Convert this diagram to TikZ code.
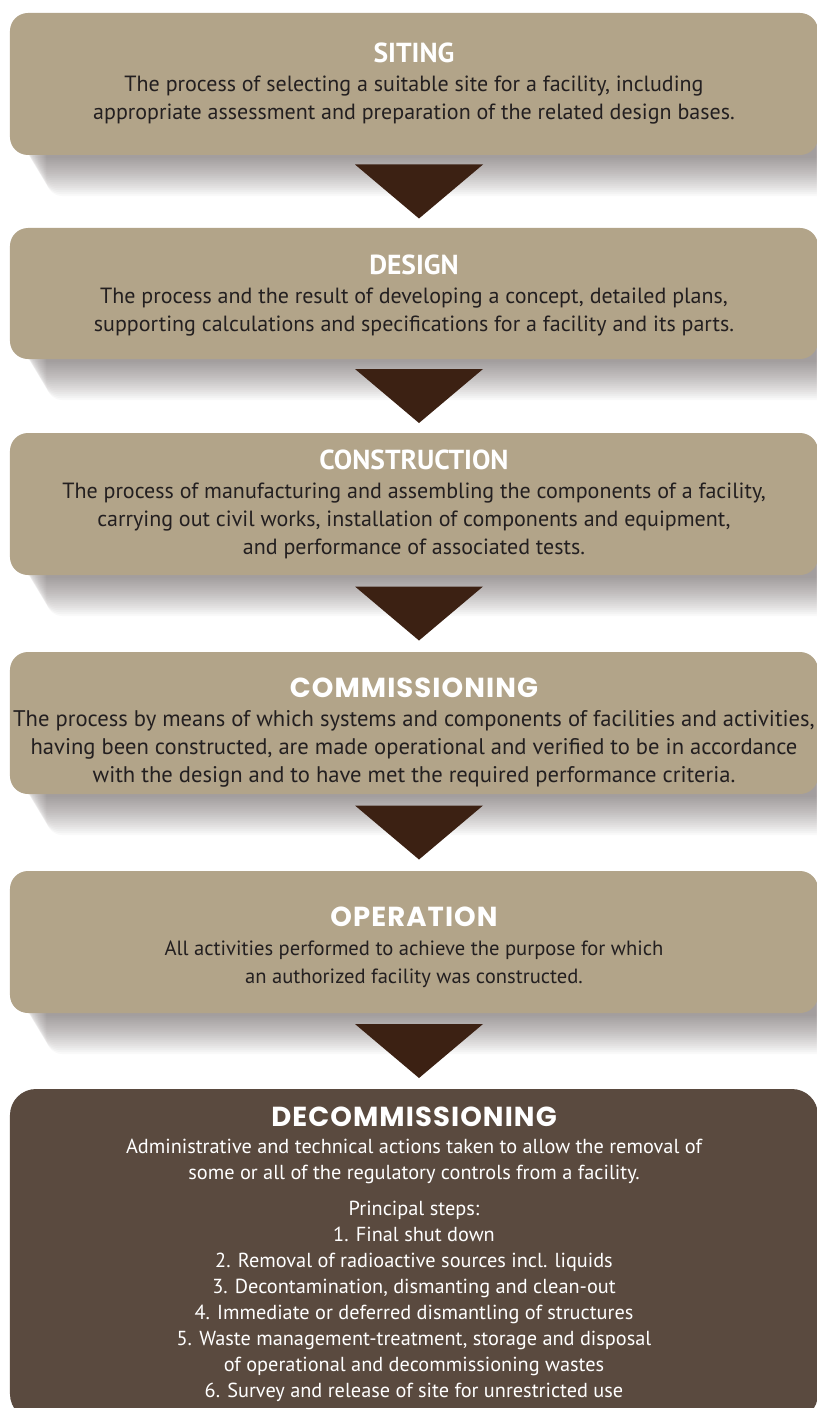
\documentclass[tikz,border=0pt]{standalone}
\usepackage{fontspec}
\setmainfont{PT Sans}
\newfontfamily\widefont[LetterSpace=4]{Poppins}
\usetikzlibrary{backgrounds, calc}

\definecolor{tanbox}{HTML}{B2A489}
\definecolor{darkbox}{HTML}{5A4A3F}
\definecolor{pointerbrown}{HTML}{3C2113}
\definecolor{bodytext}{HTML}{231F20}
\definecolor{shadowtone}{HTML}{3A2E2E}

\newcommand{\stagetitle}[1]{{\fontsize{27.5bp}{28bp}\selectfont\bfseries\color{white}#1}}
\newcommand{\widetitle}[1]{{\widefont\fontsize{27.5bp}{28bp}\selectfont\bfseries\color{white}#1}}

\begin{document}
\begin{tikzpicture}[x=1bp, y=-1bp,
        stage/.style={fill=tanbox, rounded corners=18bp, minimum width=808bp, inner sep=0pt},
        laststage/.style={stage, fill=darkbox, rounded corners=26bp},
        stagetext/.style={inner sep=0pt, align=center, text=bodytext, font=\fontsize{22bp}{28bp}\selectfont},
        laststagetext/.style={stagetext, text=white, font=\fontsize{20.3bp}{26bp}\selectfont},
        pointer/.style={fill=pointerbrown},
        shadowlayer/.style={fill=shadowtone, opacity=0.028, rounded corners=16bp}
      ]
        \useasboundingbox (0,0) rectangle (816,1408);

        % Stages
        \node[stage, minimum height=142bp] (siting) at (414,84) {};
        \node[stage, minimum height=131bp] (design) at (414,293.5) {};
        \node[stage, minimum height=142bp] (construction) at (414,504) {};
        \node[stage, minimum height=142bp] (commissioning) at (414,723) {};
        \node[stage, minimum height=142bp] (operation) at (414,942) {};
        \node[laststage, minimum height=331bp] (decommissioning) at (414,1254.5) {};

        % Texts
        \node[stagetext] (sitingtext) at (siting.center) {
            \stagetitle{SITING}\\[1bp]
            The process of selecting a suitable site for a facility, including\\
            appropriate assessment and preparation of the related design bases.
        };
        \node[stagetext] (designtext) at ([yshift=-2bp]design.center) {
            \stagetitle{DESIGN}\\[1bp]
            The process and the result of developing a concept, detailed plans,\\
            supporting calculations and specifications for a facility and its parts.
        };
        \node[stagetext] (constructiontext) at (construction.center) {
            \stagetitle{CONSTRUCTION}\\[1bp]
            The process of manufacturing and assembling the components of a facility,\\
            carrying out civil works, installation of components and equipment,\\
            and performance of associated tests.
        };
        \node[stagetext, font=\fontsize{22.6bp}{28bp}\selectfont] (commissioningtext) at ([yshift=-10bp]commissioning.center) {
            \widetitle{COMMISSIONING}\\[1bp]
            The process by means of which systems and components of facilities and activities,\\
            having been constructed, are made operational and verified to be in accordance\\
            with the design and to have met the required performance criteria.
        };
        \node[stagetext, font=\fontsize{20.6bp}{28bp}\selectfont] (operationtext) at ([yshift=-5bp]operation.center) {
            \widetitle{OPERATION}\\[1bp]
            All activities performed to achieve the purpose for which\\
            an authorized facility was constructed.
        };
        \node[laststagetext] (decommissioningtext) at (decommissioning.center) {
            \widetitle{DECOMMISSIONING}\\[1bp]
            Administrative and technical actions taken to allow the removal of\\
            some or all of the regulatory controls from a facility.\\[10bp]
            Principal steps:\\
            1. Final shut down\\
            2. Removal of radioactive sources incl. liquids\\
            3. Decontamination, dismanting and clean-out\\
            4. Immediate or deferred dismantling of structures\\
            5. Waste management-treatment, storage and disposal\\
            of operational and decommissioning wastes\\
            6. Survey and release of site for unrestricted use
        };

        % Soft shadows under the light stages
        \begin{scope}[on background layer]
            \fill[white] (0,0) rectangle (816,1408);
            \foreach \b in {siting, design, construction, commissioning, operation} {
                \foreach \i in {0,...,19} {
                    \fill[shadowlayer] ([xshift={14+1.2*\i}, yshift=30]\b.south west) rectangle ([xshift=20, yshift={-3-2*\i}]\b.south east);
                }
            }
        \end{scope}

        % Pointers between stages
        \foreach \a/\b in {siting/design, design/construction, construction/commissioning, commissioning/operation, operation/decommissioning} {
            \coordinate (mid) at ($(\a.south)!0.5!(\b.north)$);
            \fill[pointer] ([shift={(-59,-27)}]mid) -- ([shift={(69,-27)}]mid) -- ([shift={(5,27)}]mid) -- cycle;
        }
    \end{tikzpicture}
\end{document}
